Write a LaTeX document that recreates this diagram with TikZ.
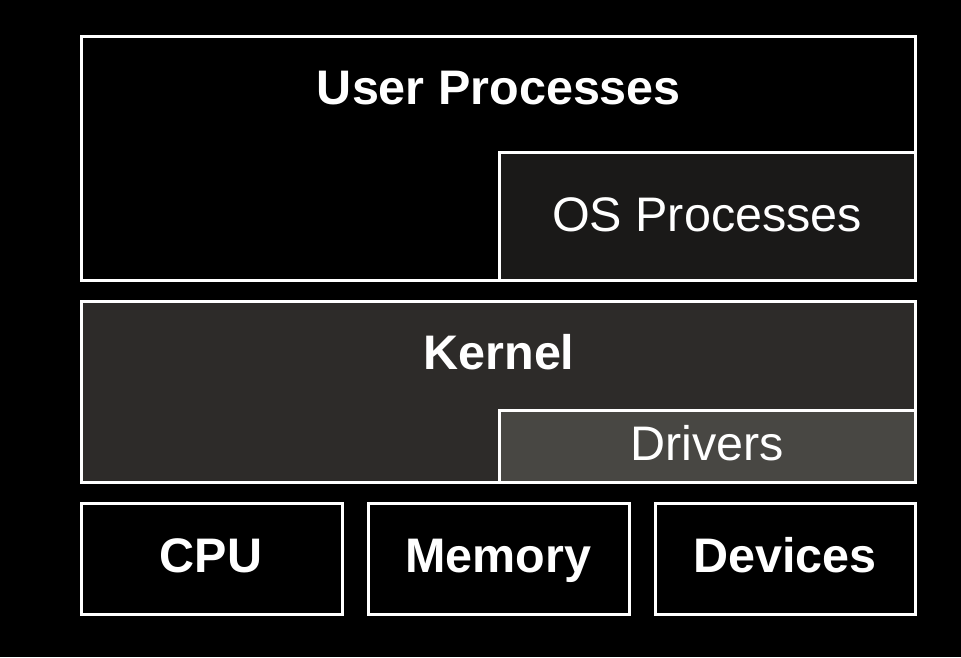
\documentclass[tikz,border=0pt]{standalone}
\usepackage{fontspec}
\setmainfont{Liberation Sans}
\definecolor{osgray}{HTML}{1A1918}
\definecolor{kernelgray}{HTML}{2D2B29}
\definecolor{drivergray}{HTML}{484743}
\begin{document}
\begin{tikzpicture}[x=1pt,y=-1pt,
  layer/.style={draw=white,line width=3pt},
  bigtitle/.style={text=white,font=\fontsize{48.5}{56}\selectfont\bfseries,anchor=base,inner sep=0},
  smalltitle/.style={text=white,font=\fontsize{48.5}{56}\selectfont,anchor=base,inner sep=0}]

\fill[black] (0,0) rectangle (961,657);
\useasboundingbox (0,0) rectangle (961,657);

\draw [layer,fill=black] (81,36) rectangle (915,280);
\draw [layer,fill=osgray] (499,152) rectangle (915,280);
\draw [layer,fill=kernelgray] (81,301) rectangle (915,482);
\draw [layer,fill=drivergray] (499,410) rectangle (915,482);
\draw [layer,fill=black] (81,503) rectangle (342,614);
\draw [layer,fill=black] (368,503) rectangle (629,614);
\draw [layer,fill=black] (655,503) rectangle (915,614);

\node [bigtitle] (user) at (499,104) {User Processes};
\node [smalltitle] (os) at (707,231) {OS Processes};
\node [bigtitle] (kernel) at (499,369) {Kernel};
\node [smalltitle] (drivers) at (707,460) {Drivers};
\node [bigtitle] (cpu) at (211,572) {CPU};
\node [bigtitle] (mem) at (498,572) {Memory};
\node [bigtitle] (dev) at (785,572) {Devices};
\end{tikzpicture}
\end{document}
